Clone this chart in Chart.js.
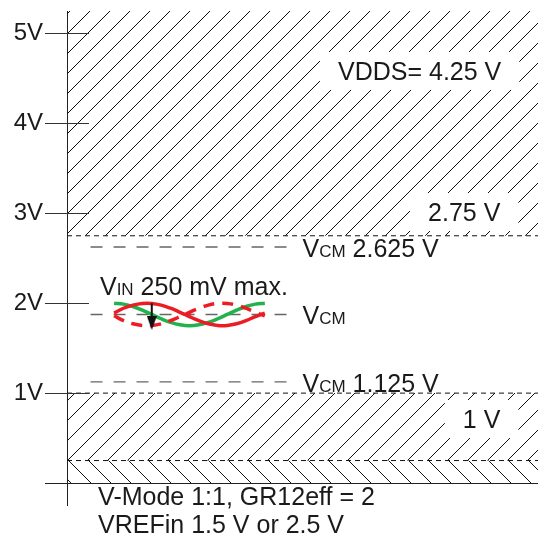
<!DOCTYPE html>
<html>
<head>
<meta charset="utf-8">
<title>V-Mode input voltage range</title>
<script src="https://cdn.jsdelivr.net/npm/chart.js@4.4.0/dist/chart.umd.min.js"></script>
<style>
    html, body { margin: 0; padding: 0; background: #fff; }
    #wrap { width: 538px; height: 535px; }
</style>
</head>
<body>
<div id="wrap"><canvas id="chart" width="538" height="535"></canvas></div>
<script>
// Voltage axis (V)
const yTicks = [1, 2, 3, 4, 5];
const yRange = [-0.25, 5.25];
// Time axis, arbitrary units
const xRange = [0, 100];

// Forbidden (hatched) zones, [from, to] in V
const upperZone = [2.75, 5.25];
const lowerZone = [0.25, 1];
const bottomZone = [0, 0.25];

// Common mode levels
const vcmLevels = [2.625, 1.875, 1.125];
const vcmText = ['2.625 V', '', '1.125 V'];
const vcmSpan = [5, 47];

// Input signal
const waveX = [10, 12, 14, 16, 18, 20, 22, 24, 26, 28, 30, 32, 34, 36, 38, 40, 42];
const vinGreen = [2.000, 1.990, 1.963, 1.923, 1.875, 1.827, 1.787, 1.760, 1.750,
                  1.760, 1.787, 1.827, 1.875, 1.923, 1.963, 1.990, 2.000];
const vinRed = [1.890, 1.944, 1.979, 1.998, 1.998, 1.979, 1.944, 1.899, 1.851,
                1.806, 1.771, 1.752, 1.752, 1.771, 1.806, 1.851, 1.890];
const vinRedDash = [1.860, 1.806, 1.771, 1.752, 1.752, 1.771, 1.806, 1.851, 1.899,
                    1.944, 1.979, 1.998, 1.998, 1.979, 1.944, 1.899, 1.860];

// Amplitude arrow
const arrowX = [18, 18];
const arrowY = [2.0, 1.78];

// Text notes: runs of [text, small], anchored in data units at the baseline
const notes = [
    { runs: [['VDDS= 4.25 V']], x: 92.2, y: 4.483, align: 'right', box: true },
    { runs: [['2.75 V']], x: 92, y: 2.914, align: 'right', box: true },
    { runs: [['1 V']], x: 92, y: 0.612, align: 'right', box: true },
    { runs: [['V'], ['IN', true], [' 250 mV max.']], x: 7, y: 2.091, align: 'left' },
    { runs: [['V-Mode 1:1, GR12eff = 2']], x: 6.6, y: -0.245, align: 'left' },
    { runs: [['VREFin 1.5 V or 2.5 V']], x: 6.6, y: -0.56, align: 'left' }
];

const FONT = '"Liberation Sans", Arial, Helvetica, sans-serif';
const TEXT_COLOR = '#1a1a1a';

function points(xs, ys) {
    return xs.map((x, i) => ({ x: x, y: ys[i] }));
}

function flat(level, span) {
    return [{ x: span[0], y: level }, { x: span[1], y: level }];
}

// Diagonal hatch as a repeating canvas pattern
function hatchPattern(ctx, dir, offset) {
    const s = 20;
    const tile = document.createElement('canvas');
    tile.width = s;
    tile.height = s;
    const c = tile.getContext('2d');
    c.strokeStyle = '#111';
    c.lineWidth = 1;
    c.beginPath();
    if (dir === '/') {
        c.moveTo(-2, s + 2); c.lineTo(s + 2, -2);
        c.moveTo(-2, 2); c.lineTo(2, -2);
        c.moveTo(s - 2, s + 2); c.lineTo(s + 2, s - 2);
    } else {
        c.moveTo(-2, -2); c.lineTo(s + 2, s + 2);
        c.moveTo(s - 2, -2); c.lineTo(s + 2, 2);
        c.moveTo(-2, s - 2); c.lineTo(2, s + 2);
    }
    c.stroke();
    const p = ctx.createPattern(tile, 'repeat');
    p.setTransform(new DOMMatrix().translate(offset, 0));
    return p;
}

// Narrow arrow head used as point style
function arrowHead() {
    const c = document.createElement('canvas');
    c.width = 10;
    c.height = 14;
    const g = c.getContext('2d');
    g.fillStyle = '#111';
    g.beginPath();
    g.moveTo(0, 0);
    g.lineTo(10, 0);
    g.lineTo(5, 14);
    g.closePath();
    g.fill();
    return c;
}

function drawRuns(ctx, runs, px, py, align) {
    const big = '25px ' + FONT;
    const small = '17px ' + FONT;
    let width = 0;
    runs.forEach(r => {
        ctx.font = r[1] ? small : big;
        width += ctx.measureText(r[0]).width;
    });
    let cx = align === 'right' ? px - width : px;
    const left = cx;
    runs.forEach(r => {
        ctx.font = r[1] ? small : big;
        ctx.fillText(r[0], cx, py);
        cx += ctx.measureText(r[0]).width;
    });
    return { left: left, right: left + width };
}

function runsWidth(ctx, runs) {
    let w = 0;
    runs.forEach(r => {
        ctx.font = (r[1] ? '17px ' : '25px ') + FONT;
        w += ctx.measureText(r[0]).width;
    });
    return w;
}

// Axis baseline, inner tick halves and all text
const overlay = {
    id: 'overlay',
    afterDatasetsDraw(chart) {
        const { ctx, chartArea } = chart;
        const xs = chart.scales.x;
        const ys = chart.scales.y;
        const tick = chart.options.scales.y.grid.tickLength;
        const align = p => Math.round(p - 0.5) + 0.5;

        ctx.save();
        ctx.strokeStyle = '#222';
        ctx.lineWidth = 1;
        ctx.beginPath();
        const y0 = align(ys.getPixelForValue(0));
        ctx.moveTo(chartArea.left - tick, y0);
        ctx.lineTo(chartArea.right, y0);
        ctx.stroke();

        ctx.strokeStyle = '#333';
        ctx.beginPath();
        yTicks.forEach(v => {
            const py = align(ys.getPixelForValue(v));
            ctx.moveTo(chartArea.left, py);
            ctx.lineTo(chartArea.left + tick, py);
        });
        ctx.stroke();

        ctx.textBaseline = 'alphabetic';
        ctx.textAlign = 'left';

        notes.forEach(n => {
            const px = xs.getPixelForValue(n.x);
            const py = ys.getPixelForValue(n.y);
            if (n.box) {
                const w = runsWidth(ctx, n.runs);
                const left = n.align === 'right' ? px - w : px;
                ctx.fillStyle = '#fff';
                ctx.fillRect(left - 18, py - 28, w + 36, 38);
            }
            ctx.fillStyle = TEXT_COLOR;
            drawRuns(ctx, n.runs, px, py, n.align);
        });

        // labels at the end of each common mode line
        vcmLevels.forEach((v, i) => {
            const px = xs.getPixelForValue(vcmSpan[1] + 3);
            const py = ys.getPixelForValue(v) + 10;
            const runs = [['V'], ['CM', true]];
            if (vcmText[i]) runs.push([' ' + vcmText[i]]);
            ctx.fillStyle = TEXT_COLOR;
            drawRuns(ctx, runs, px, py, 'left');
        });
        ctx.restore();
    }
};

const canvas = document.getElementById('chart');
const ctx = canvas.getContext('2d');

const zoneLine = {
    borderColor: '#111',
    borderWidth: 1,
    borderDash: [5, 4],
    pointRadius: 0,
    order: 5
};

const datasets = [
    Object.assign({
        label: 'upper zone',
        data: flat(upperZone[0], xRange),
        fill: { value: upperZone[1] },
        backgroundColor: hatchPattern(ctx, '/', 1)
    }, zoneLine),
    Object.assign({
        label: 'lower zone',
        data: flat(lowerZone[1], xRange),
        fill: { value: lowerZone[0] },
        backgroundColor: hatchPattern(ctx, '/', 8)
    }, zoneLine),
    Object.assign({
        label: 'bottom zone',
        data: flat(bottomZone[1], xRange),
        fill: { value: bottomZone[0] },
        backgroundColor: hatchPattern(ctx, '\\', 8)
    }, zoneLine)
];

vcmLevels.forEach(v => {
    datasets.push({
        label: 'VCM ' + v,
        data: flat(v, vcmSpan),
        borderColor: '#666',
        borderWidth: 1.4,
        borderDash: [12, 11],
        pointRadius: 0,
        order: 4
    });
});

datasets.push({
    label: 'VIN+',
    data: points(waveX, vinGreen),
    borderColor: '#22b14c',
    borderWidth: 3.5,
    tension: 0.4,
    pointRadius: 0,
    order: 3
});
datasets.push({
    label: 'VIN- alt',
    data: points(waveX, vinRedDash),
    borderColor: '#ed1c24',
    borderWidth: 3.5,
    borderDash: [11, 8],
    tension: 0.4,
    pointRadius: 0,
    order: 2
});
datasets.push({
    label: 'VIN-',
    data: points(waveX, vinRed),
    borderColor: '#ed1c24',
    borderWidth: 3.5,
    tension: 0.4,
    pointRadius: 0,
    order: 1
});

const head = arrowHead();
datasets.push({
    label: 'amplitude',
    data: points(arrowX, arrowY),
    borderColor: '#111',
    borderWidth: 2,
    pointRadius: [0, 7],
    pointStyle: [false, head],
    order: 0
});

new Chart(ctx, {
    type: 'line',
    data: { datasets: datasets },
    options: {
        responsive: false,
        animation: false,
        events: [],
        layout: {
            autoPadding: false,
            padding: { top: 11, bottom: 29.5, left: 0, right: 0 }
        },
        plugins: {
            legend: { display: false },
            tooltip: { enabled: false }
        },
        scales: {
            x: {
                type: 'linear',
                min: xRange[0],
                max: xRange[1],
                display: false
            },
            y: {
                type: 'linear',
                min: yRange[0],
                max: yRange[1],
                afterBuildTicks: axis => {
                    axis.ticks = yTicks.map(v => ({ value: v }));
                },
                afterFit: axis => {
                    axis.width = 67;
                    axis.paddingTop = 0;
                    axis.paddingBottom = 0;
                },
                ticks: {
                    callback: v => v + 'V',
                    color: TEXT_COLOR,
                    padding: 2,
                    font: { family: FONT, size: 24 }
                },
                grid: {
                    drawOnChartArea: false,
                    drawTicks: true,
                    tickLength: 22,
                    color: '#333'
                },
                border: { color: '#222', width: 1 }
            }
        }
    },
    plugins: [overlay]
});
</script>
</body>
</html>
